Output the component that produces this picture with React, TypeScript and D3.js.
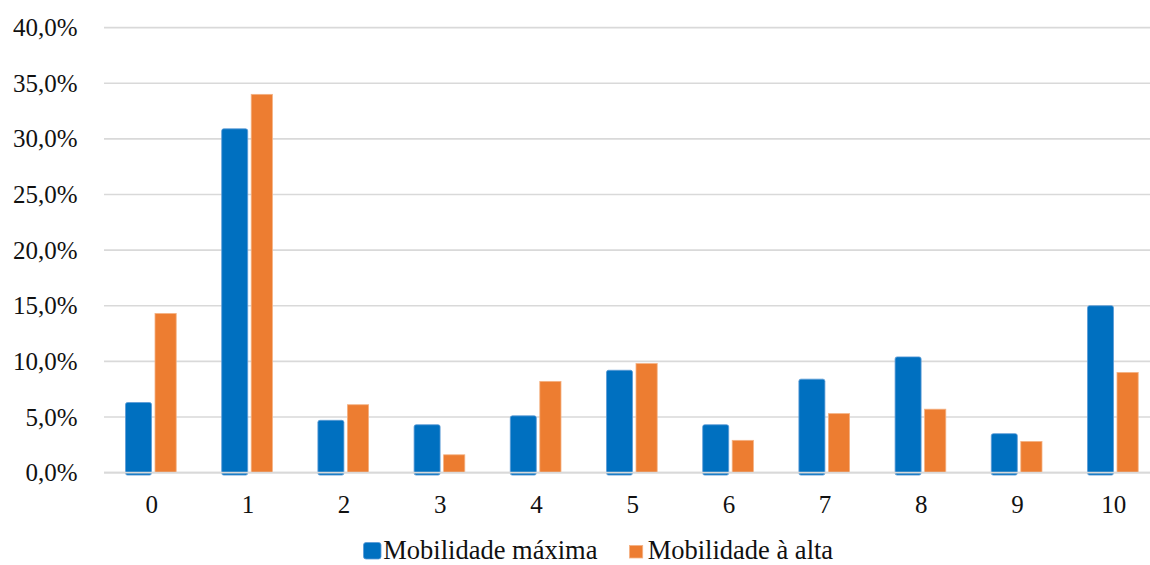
import React from "react";
import * as d3 from "d3";

const categories = ["0", "1", "2", "3", "4", "5", "6", "7", "8", "9", "10"];
const mobilidadeMaxima = [6.3, 30.9, 4.7, 4.3, 5.1, 9.2, 4.3, 8.4, 10.4, 3.5, 15.0];
const mobilidadeAlta = [14.3, 34.0, 6.1, 1.6, 8.2, 9.8, 2.9, 5.3, 5.7, 2.8, 9.0];
const yTicks = [0, 5, 10, 15, 20, 25, 30, 35, 40];
const seriesNames = ["Mobilidade máxima", "Mobilidade à alta"];

const W = 1150;
const H = 565;
const BLUE = "#0070C0";
const ORANGE = "#ED7D31";
const FONT = "Liberation Serif";

export default function App() {
  const x = d3.scaleBand<string>().domain(categories).range([103.6, 1161.8]);
  const y = d3.scaleLinear().domain([0, 40]).range([472.6, 27.6]);
  const fmt = (v: number) => v.toFixed(1).replace(".", ",") + "%";
  const center = (c: string) => (x(c) as number) + x.bandwidth() / 2;
  const legendBase = 559;

  return (
    <svg width={W} height={H} style={{ position: "absolute", left: 0, top: 0, background: "#fff" }}>
      {/* horizontal gridlines */}
      {yTicks.map((t) => (
        <line key={"g" + t} x1={104} x2={W} y1={y(t)} y2={y(t)} stroke="#D9D9D9" strokeWidth={1.6} />
      ))}
      {/* value axis labels */}
      {yTicks.map((t) => (
        <text key={"yl" + t} x={77.5} y={y(t) + 8.6} textAnchor="end" fontFamily={FONT} fontSize={25} fill="#111">
          {fmt(t)}
        </text>
      ))}
      {/* clustered bars */}
      {categories.map((c, i) => {
        const cx = center(c);
        const vb = mobilidadeMaxima[i];
        const vo = mobilidadeAlta[i];
        return (
          <g key={"b" + c}>
            <rect x={cx - 26.2} y={y(vb)} width={26} height={y(0) - y(vb) + 2.5} rx={2} fill={BLUE} stroke="#5B9BD5" strokeWidth={0.8} />
            <rect x={cx + 3.3} y={y(vo)} width={21.2} height={y(0) - y(vo)} fill={ORANGE} stroke="#F4B183" strokeWidth={0.8} />
          </g>
        );
      })}
      {/* baseline drawn over the bars */}
      <line x1={104} x2={W} y1={y(0)} y2={y(0)} stroke="#D9D9D9" strokeWidth={1.6} />
      {/* category labels */}
      {categories.map((c) => (
        <text key={"xl" + c} x={center(c)} y={513.3} textAnchor="middle" fontFamily={FONT} fontSize={25} fill="#111">
          {c}
        </text>
      ))}
      {/* legend */}
      <rect x={363.5} y={legendBase - 16.5} width={17.5} height={16.5} rx={2.5} fill={BLUE} stroke="#5B9BD5" strokeWidth={0.8} />
      <text x={383.3} y={legendBase} fontFamily={FONT} fontSize={26.5} fill="#111">
        {seriesNames[0]}
      </text>
      <rect x={629.5} y={legendBase - 13.5} width={13.2} height={12.5} fill={ORANGE} stroke="#F4B183" strokeWidth={0.8} />
      <text x={647.7} y={legendBase} fontFamily={FONT} fontSize={26.5} fill="#111">
        {seriesNames[1]}
      </text>
    </svg>
  );
}
